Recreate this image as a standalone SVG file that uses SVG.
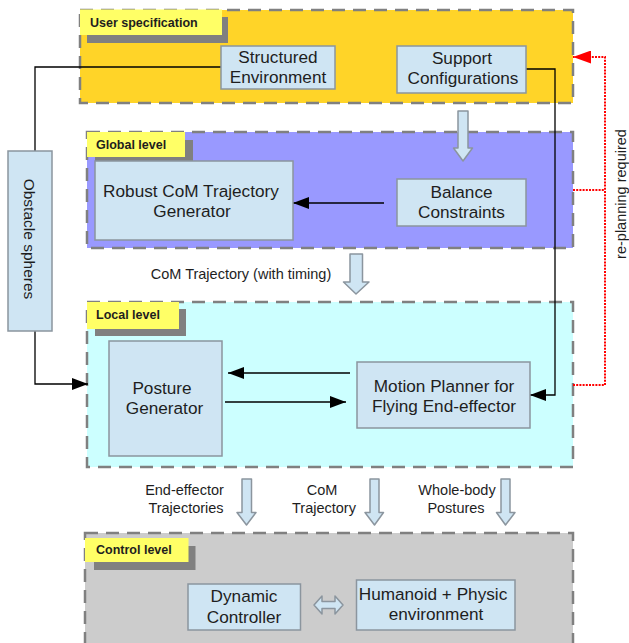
<svg xmlns="http://www.w3.org/2000/svg" width="629" height="643" viewBox="0 0 629 643">
  <style>
    text { font-family: "Liberation Sans", Arial, sans-serif; fill: #1e1e1e; }
    .panel { stroke: #808080; stroke-width: 2.5; stroke-dasharray: 13 8; }
    .tag { fill: #ffff66; }
    .shadow { fill: #808080; }
    .tagtxt { font-size: 12.5px; font-weight: bold; }
    .node rect { fill: #cfe5f3; stroke: #8b959e; stroke-width: 1.5; }
    .node text { font-size: 17.2px; text-anchor: middle; }
    .lbl { font-size: 14.5px; text-anchor: middle; }
    .wire { fill: none; stroke: #000; stroke-width: 1.3; }
    .red { fill: none; stroke: #ff0000; stroke-width: 2; stroke-dasharray: 2 1.2; }
    .hollow { fill: #cfe5f3; stroke: #8b959e; stroke-width: 1.5; stroke-linejoin: round; }
  </style>
  <defs>
    <marker id="ah" markerUnits="userSpaceOnUse" markerWidth="17" markerHeight="12" refX="16" refY="6" orient="auto">
      <path d="M0,0 L16,6 L0,12 Z" fill="#000"/>
    </marker>
    <marker id="ahRed" markerUnits="userSpaceOnUse" markerWidth="19" markerHeight="13" refX="18" refY="6.5" orient="auto">
      <path d="M0,0 L18,6.5 L0,13 Z" fill="#ff0000"/>
    </marker>
  </defs>

  <!-- level panels -->
  <g id="user-specification">
    <rect class="panel" x="80" y="10" width="493" height="93" fill="#ffd428"/>
    <rect class="shadow" x="87" y="17" width="141" height="26"/>
    <rect class="tag" x="80" y="9.5" width="142" height="25.5"/>
    <text class="tagtxt" x="90" y="27">User specification</text>
  </g>
  <g id="global-level">
    <rect class="panel" x="87" y="132" width="486" height="116" fill="#9999ff"/>
    <rect class="shadow" x="95" y="140" width="98" height="23"/>
    <rect class="tag" x="87" y="132" width="98" height="25"/>
    <text class="tagtxt" x="96" y="149">Global level</text>
  </g>
  <g id="local-level">
    <rect class="panel" x="87" y="302" width="486" height="165" fill="#ccffff"/>
    <rect class="shadow" x="95" y="309" width="91" height="27"/>
    <rect class="tag" x="87" y="302" width="92" height="27"/>
    <text class="tagtxt" x="96" y="319">Local level</text>
  </g>
  <g id="control-level">
    <rect class="panel" x="85" y="533" width="488" height="114" fill="#cccccc"/>
    <rect class="shadow" x="94" y="546" width="101.5" height="24"/>
    <rect class="tag" x="85" y="538" width="103.5" height="24"/>
    <text class="tagtxt" x="96" y="554">Control level</text>
  </g>

  <!-- connectors -->
  <g id="connectors">
    <path class="wire" d="M221,67 H35 V151"/>
    <path class="wire" d="M35,331 V384 H88" marker-end="url(#ah)"/>
    <path class="wire" d="M526,69 H555 V395 H530" marker-end="url(#ah)"/>
    <path class="wire" d="M384,203 H293" marker-end="url(#ah)"/>
    <path class="wire" d="M350,373 H228" marker-end="url(#ah)"/>
    <path class="wire" d="M225,402 H346" marker-end="url(#ah)"/>
    <path class="red" d="M573,385 H605 V57 H573" marker-end="url(#ahRed)"/>
    <path class="red" d="M573,190 H605"/>
    <path class="hollow" d="M458,111 H468 V148 H472.5 L463,161 L453.5,148 H458 Z"/>
    <path class="hollow" d="M350,254 H362.5 V282 H369 L356,294 L343.5,282 H350 Z"/>
    <path class="hollow" d="M242,479 H251.5 V512.5 H256 L246.5,525 L237,512.5 H242 Z"/>
    <path class="hollow" d="M370,479 H379 V512.5 H383.5 L374.5,525 L365,512.5 H370 Z"/>
    <path class="hollow" d="M501,479 H510 V512.5 H515 L505.5,525 L496.5,512.5 H501 Z"/>
    <path class="hollow" d="M314,605 L322,596 V601.5 H335 V596 L343,605 L335,614 V608.5 H322 V614 Z"/>
    <text class="lbl" x="241" y="279">CoM Trajectory (with timing)</text>
    <text class="lbl" x="184.5" y="495">End-effector</text>
    <text class="lbl" x="186" y="513">Trajectories</text>
    <text class="lbl" x="322" y="495">CoM</text>
    <text class="lbl" x="324" y="513">Trajectory</text>
    <text class="lbl" x="457" y="495">Whole-body</text>
    <text class="lbl" x="456" y="513">Postures</text>
    <text class="lbl" transform="translate(626,194) rotate(-90)" font-size="15.5">re-planning required</text>
  </g>

  <!-- nodes -->
  <g id="structured-environment" class="node">
    <rect x="221" y="46" width="114" height="43"/>
    <text x="278" y="63">Structured</text>
    <text x="278" y="83">Environment</text>
  </g>
  <g id="support-configurations" class="node">
    <rect x="397" y="46" width="129" height="47"/>
    <text x="462" y="64">Support</text>
    <text x="463" y="84">Configurations</text>
  </g>
  <g id="obstacle-spheres" class="node">
    <rect x="8" y="151" width="44" height="180"/>
    <text transform="translate(24,239) rotate(90)" style="font-size:15.5px">Obstacle spheres</text>
  </g>
  <g id="robust-com-generator" class="node">
    <rect x="95" y="161" width="198" height="79"/>
    <text x="191" y="197">Robust CoM Trajectory</text>
    <text x="192" y="217">Generator</text>
  </g>
  <g id="balance-constraints" class="node">
    <rect x="397" y="179" width="129" height="47"/>
    <text x="461.5" y="198">Balance</text>
    <text x="461.5" y="218">Constraints</text>
  </g>
  <g id="posture-generator" class="node">
    <rect x="109" y="341" width="113" height="115"/>
    <text x="162" y="394">Posture</text>
    <text x="164.5" y="414">Generator</text>
  </g>
  <g id="motion-planner" class="node">
    <rect x="357" y="362" width="173" height="66"/>
    <text x="444" y="392">Motion Planner for</text>
    <text x="444" y="412">Flying End-effector</text>
  </g>
  <g id="dynamic-controller" class="node">
    <rect x="188" y="584" width="112.5" height="46"/>
    <text x="244" y="602">Dynamic</text>
    <text x="244" y="623">Controller</text>
  </g>
  <g id="humanoid-environment" class="node">
    <rect x="356.5" y="580" width="158.5" height="50"/>
    <text x="433" y="600">Humanoid + Physic</text>
    <text x="436" y="620">environment</text>
  </g>
</svg>
